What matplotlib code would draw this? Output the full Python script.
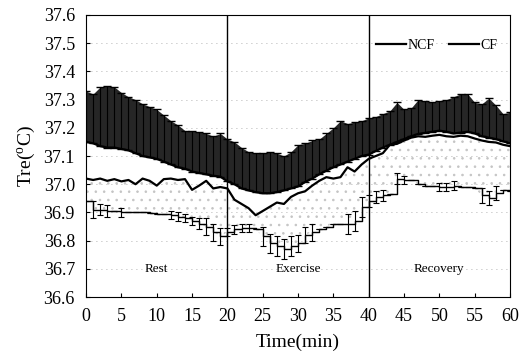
import matplotlib
matplotlib.use('Agg')
import matplotlib.pyplot as plt
import numpy as np

plt.rcParams['font.family'] = ['Liberation Serif', 'DejaVu Serif']
plt.rcParams['mathtext.fontset'] = 'custom'
plt.rcParams['mathtext.rm'] = 'Liberation Serif'
plt.rcParams['hatch.linewidth'] = 0.6

# time (min), one reading per minute
time_min = np.arange(0, 61)

# NCF mean and mean+SD (top of the error bars)
ncf_mean = [37.15, 37.145, 37.135, 37.13, 37.13, 37.125, 37.12, 37.11, 37.10, 37.095,
            37.09, 37.08, 37.07, 37.06, 37.055, 37.045, 37.04, 37.035, 37.03, 37.027,
            37.01, 37.0, 36.985, 36.978, 36.972, 36.968, 36.968, 36.972, 36.978, 36.985,
            36.992, 37.008, 37.02, 37.035, 37.048, 37.06, 37.07, 37.08, 37.09, 37.1,
            37.105, 37.118, 37.13, 37.14, 37.15, 37.16, 37.17, 37.178, 37.182, 37.186,
            37.19, 37.186, 37.18, 37.183, 37.186, 37.18, 37.17, 37.165, 37.16, 37.152,
            37.145]
ncf_upper = [37.33, 37.32, 37.345, 37.35, 37.345, 37.325, 37.31, 37.30, 37.285, 37.275,
             37.265, 37.245, 37.225, 37.21, 37.19, 37.188, 37.185, 37.18, 37.17, 37.18,
             37.16, 37.15, 37.13, 37.115, 37.11, 37.11, 37.115, 37.11, 37.10, 37.115,
             37.14, 37.145, 37.155, 37.16, 37.18, 37.2, 37.225, 37.215, 37.22, 37.225,
             37.235, 37.24, 37.25, 37.26, 37.29, 37.265, 37.27, 37.3, 37.295, 37.29,
             37.295, 37.3, 37.31, 37.32, 37.32, 37.29, 37.285, 37.305, 37.28, 37.25,
             37.255]

# CF mean (wavy line) and the lower stepped line with its small bars
cf_mean = [37.02, 37.015, 37.02, 37.012, 37.018, 37.01, 37.015, 37.0, 37.02, 37.012,
           36.995, 37.018, 37.02, 37.015, 37.018, 36.98, 36.995, 37.012, 36.985, 36.99,
           36.985, 36.945, 36.93, 36.915, 36.89, 36.905, 36.92, 36.935, 36.93, 36.955,
           36.968, 36.975, 36.995, 37.012, 37.025, 37.02, 37.025, 37.06, 37.045, 37.07,
           37.09, 37.1, 37.11, 37.14, 37.143, 37.155, 37.165, 37.17, 37.168, 37.172,
           37.175, 37.17, 37.168, 37.172, 37.17, 37.162, 37.155, 37.15, 37.148, 37.14,
           37.135]
cf_lower = [36.94, 36.91, 36.91, 36.905, 36.905, 36.9, 36.9, 36.9, 36.9, 36.898,
            36.895, 36.895, 36.89, 36.885, 36.88, 36.87, 36.86, 36.85, 36.83, 36.815,
            36.83, 36.84, 36.845, 36.845, 36.84, 36.815, 36.79, 36.78, 36.77, 36.78,
            36.79, 36.82, 36.83, 36.84, 36.85, 36.86, 36.86, 36.86, 36.87, 36.92,
            36.94, 36.955, 36.96, 36.965, 37.02, 37.015, 37.015, 37.0, 36.995, 36.993,
            36.99, 36.99, 36.995, 36.99, 36.99, 36.985, 36.96, 36.95, 36.97, 36.98,
            36.975]
cf_lower_sd = [0.0, 0.03, 0.02, 0.02, 0.0, 0.015, 0.0, 0.0, 0.0, 0.0,
               0.0, 0.0, 0.015, 0.015, 0.015, 0.015, 0.02, 0.03, 0.03, 0.03,
               0.015, 0.015, 0.015, 0.015, 0.0, 0.035, 0.035, 0.035, 0.035, 0.035,
               0.03, 0.03, 0.03, 0.0, 0.0, 0.0, 0.0, 0.035, 0.035, 0.035,
               0.02, 0.02, 0.02, 0.0, 0.02, 0.015, 0.0, 0.0, 0.0, 0.0,
               0.015, 0.015, 0.015, 0.0, 0.0, 0.0, 0.025, 0.025, 0.025, 0.0,
               0.0]

phases = ['Rest', 'Exercise', 'Recovery']
phase_x = [10, 30, 50]

ncf_mean = np.array(ncf_mean)
ncf_upper = np.array(ncf_upper)
cf_mean = np.array(cf_mean)
cf_lower = np.array(cf_lower)

fig = plt.figure(figsize=(5.28, 3.57), dpi=100)
ax = fig.add_axes([0.163, 0.168, 0.803, 0.79])

# faint dotted horizontal guides
for y in np.arange(36.7, 37.6, 0.1):
    ax.axhline(y, color='#999999', lw=0.6, ls=(0, (1, 5)), zorder=0)

# stippled band between CF and the lower line
ax.fill_between(time_min, cf_lower, cf_mean, facecolor='none', hatch='..',
                edgecolor='#c4c4c4', linewidth=0, zorder=1)

# dark NCF error band
ax.fill_between(time_min, ncf_mean, ncf_upper, color='#262626', linewidth=0, zorder=2)
ax.errorbar(time_min, ncf_mean, yerr=[np.zeros(len(ncf_mean)), ncf_upper - ncf_mean],
            fmt='none', ecolor='k', elinewidth=0.8, capsize=3, capthick=1, zorder=3)

ax.plot(time_min, ncf_mean, color='k', lw=1.6, label='NCF', zorder=4)
ax.plot(time_min, cf_mean, color='k', lw=1.6, label='CF', zorder=4)

ax.plot(time_min, cf_lower, color='k', lw=1.0, drawstyle='steps-post', zorder=4)
ax.errorbar(time_min, cf_lower, yerr=cf_lower_sd, fmt='none', ecolor='k',
            elinewidth=0.8, capsize=2, capthick=0.8, zorder=4)

ax.axvline(20, color='k', lw=1)
ax.axvline(40, color='k', lw=1)

for name, x in zip(phases, phase_x):
    ax.text(x, 36.7, name, ha='center', va='center', fontsize=9.5)

ax.set_xlim(0, 60)
ax.set_ylim(36.6, 37.6)
ax.set_xticks(np.arange(0, 61, 5))
ax.set_yticks(np.arange(36.6, 37.61, 0.1))
ax.set_yticklabels(['%.1f' % v for v in np.arange(36.6, 37.61, 0.1)])
ax.tick_params(direction='in', length=3, labelsize=13, pad=8)
ax.set_xlabel('Time(min)', fontsize=14, labelpad=6)
ax.set_ylabel('Tre($^\\mathrm{o}$C)', fontsize=14, labelpad=4)

ax.legend(loc='upper right', ncol=2, frameon=False, fontsize=10,
          handlelength=2.2, handletextpad=0.1, columnspacing=1.0,
          bbox_to_anchor=(1.0, 0.96))

plt.savefig('out.png', dpi=100)
